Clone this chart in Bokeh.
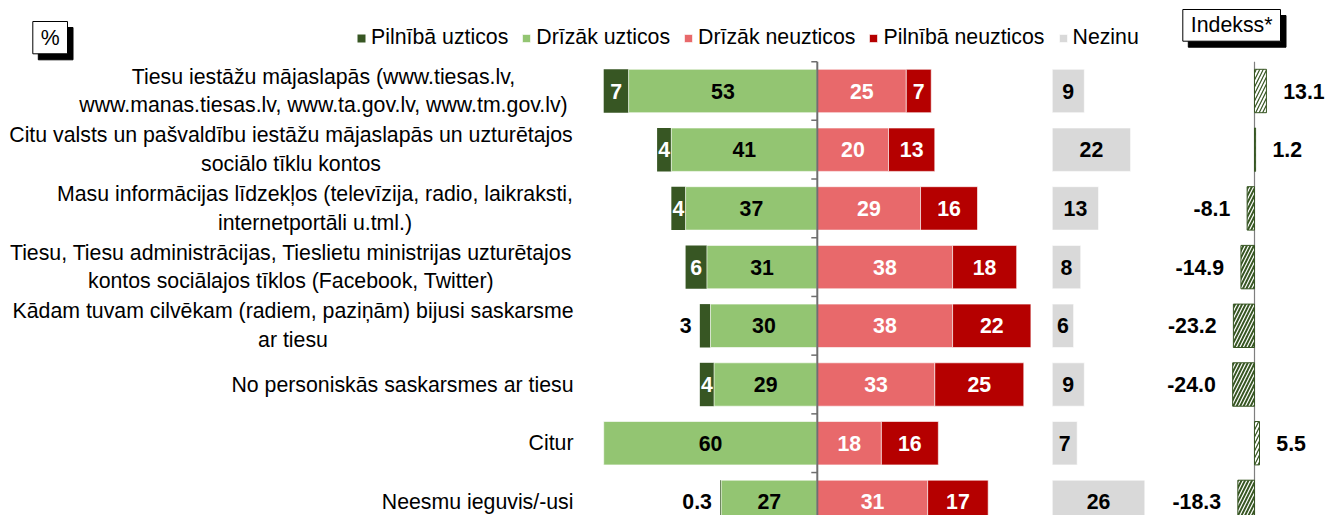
from bokeh.plotting import figure
from bokeh.models import Range1d, Legend, LegendItem
from bokeh.core.properties import value
from bokeh.embed import file_html
from bokeh.resources import INLINE

# ---------------- data ----------------
categories = [
    "Tiesu iestāžu mājaslapās (www.tiesas.lv,\nwww.manas.tiesas.lv, www.ta.gov.lv, www.tm.gov.lv)",
    "Citu valsts un pašvaldību iestāžu mājaslapās un uzturētajos\nsociālo tīklu kontos",
    "Masu informācijas līdzekļos (televīzija, radio, laikraksti,\ninternetportāli u.tml.)",
    "Tiesu, Tiesu administrācijas, Tieslietu ministrijas uzturētajos\nkontos sociālajos tīklos (Facebook, Twitter)",
    "Kādam tuvam cilvēkam (radiem, paziņām) bijusi saskarsme\nar tiesu",
    "No personiskās saskarsmes ar tiesu",
    "Citur",
    "Neesmu ieguvis/-usi",
]
series_names = ["Pilnībā uzticos", "Drīzāk uzticos", "Drīzāk neuzticos",
                "Pilnībā neuzticos", "Nezinu"]
pilnibā_uzticos = [7, 4, 4, 6, 3, 4, 0, 0.3]
drizak_uzticos = [53, 41, 37, 31, 30, 29, 60, 27]
drizak_neuzticos = [25, 20, 29, 38, 38, 33, 18, 31]
pilnibā_neuzticos = [7, 13, 16, 18, 22, 25, 16, 17]
nezinu = [9, 22, 13, 8, 6, 9, 7, 26]
indekss = [13.1, 1.2, -8.1, -14.9, -23.2, -24.0, 5.5, -18.3]
title_pct = "%"
title_idx = "Indekss*"

# ---------------- layout / style ----------------
W, H = 1326, 515
ZERO_PX, SX = 816.8, 3.56          # main panel zero (px), px per %
IDX_ZERO_PX, SXI = 1254.0, 0.91    # index panel zero, px per unit
IDX_SHIFT = IDX_ZERO_PX - 1270.7   # horizontal shift of the index panel
ROW0_PX, SY = 90.5, 58.7           # first row centre, row step
BAR_H = 43.4 / SY
NZ_OFF = 66.0                      # offset of the "Nezinu" column (in %)
LBL_GAP_IDX = 18.5                 # index label gap in index units

X0 = -ZERO_PX / SX
X1 = X0 + W / SX
XI0 = -IDX_ZERO_PX / SXI
XI1 = XI0 + W / SXI
Y_TOP = -ROW0_PX / SY
Y_BOT = Y_TOP + H / SY


def px_x(px):
    return X0 + px / SX


def px_y(py):
    return Y_TOP + py / SY


C_DG, C_LG, C_LR, C_DR, C_NZ = "#375623", "#93C572", "#E8696B", "#B50000", "#D9D9D9"
FONT = value("Liberation Sans")
FS = "21.3px"

p = figure(width=W, height=H, x_range=Range1d(X0, X1), y_range=Range1d(Y_BOT, Y_TOP),
           output_backend="svg", toolbar_location=None,
           x_axis_location=None, y_axis_location=None,
           min_border=0, outline_line_color=None)
p.xgrid.visible = False
p.ygrid.visible = False
p.extra_x_ranges = {"idx": Range1d(XI0, XI1)}

n = len(categories)
ys = list(range(n))

# ---------------- bars ----------------
dg_left = [-(a + b) for a, b in zip(pilnibā_uzticos, drizak_uzticos)]
dg_right = [-b for b in drizak_uzticos]
r_dg = p.hbar(y=ys, left=dg_left, right=dg_right, height=BAR_H,
              fill_color=C_DG, line_color=None)
r_lg = p.hbar(y=ys, left=dg_right, right=[0] * n, height=BAR_H,
              fill_color=C_LG, line_color="white", line_alpha=0.6)
lr_right = list(drizak_neuzticos)
r_lr = p.hbar(y=ys, left=[0] * n, right=lr_right, height=BAR_H,
              fill_color=C_LR, line_color="white", line_alpha=0.6)
dr_right = [a + b for a, b in zip(drizak_neuzticos, pilnibā_neuzticos)]
r_dr = p.hbar(y=ys, left=lr_right, right=dr_right, height=BAR_H,
              fill_color=C_DR, line_color="white", line_alpha=0.6)
r_nz = p.hbar(y=ys, left=[NZ_OFF] * n, right=[NZ_OFF + v for v in nezinu],
              height=BAR_H, fill_color=C_NZ, line_color="white", line_alpha=0.6)

# centre axis with ticks between categories
p.segment(x0=[0], y0=[-0.5], x1=[0], y1=[Y_BOT + 1], line_color="#6f6f6f", line_width=2)
tick_y = [i - 0.5 for i in range(n)]
p.segment(x0=[-6 / SX] * n, y0=tick_y, x1=[0] * n, y1=tick_y,
          line_color="#6f6f6f", line_width=1.5)

# index panel
pos = [i for i, v in enumerate(indekss) if v >= 0]
neg = [i for i, v in enumerate(indekss) if v < 0]
p.segment(x0=[0], y0=[-0.5], x1=[0], y1=[Y_BOT + 1], x_range_name="idx",
          line_color="#7f7f7f", line_width=1.2)
p.hbar(y=pos, left=[0] * len(pos), right=[indekss[i] for i in pos], height=BAR_H,
       x_range_name="idx", fill_color="white", line_color=C_DG, line_width=1,
       hatch_pattern="/", hatch_color=C_DG, hatch_scale=7, hatch_weight=1.2)
p.hbar(y=neg, left=[indekss[i] for i in neg], right=[0] * len(neg), height=BAR_H,
       x_range_name="idx", fill_color=C_DG, line_color=C_DG, line_width=1,
       hatch_pattern="/", hatch_color="white", hatch_scale=7, hatch_weight=1.2)

# ---------------- value labels ----------------
def fmt(v):
    return f"{v:g}"


def txt(xs, yv, texts, color, align="center", rng="default", bold=True):
    if not xs:
        return
    kw = {} if rng == "default" else {"x_range_name": rng}
    p.text(x=xs, y=yv, text=texts, text_color=color, text_align=align,
           text_baseline="middle", text_font=FONT, text_font_size=FS,
           text_font_style="bold" if bold else "normal", **kw)


# dark green: inside (white) when wide enough, outside (black) when small
in_i = [i for i, v in enumerate(pilnibā_uzticos) if v >= 4]
out_i = [i for i, v in enumerate(pilnibā_uzticos) if 0 < v < 4]
txt([(dg_left[i] + dg_right[i]) / 2 for i in in_i], in_i,
    [fmt(pilnibā_uzticos[i]) for i in in_i], "white")
txt([dg_left[i] - 2.3 for i in out_i], out_i,
    [fmt(pilnibā_uzticos[i]) for i in out_i], "black", "right")
txt([d / 2 for d in dg_right], ys, [fmt(v) for v in drizak_uzticos], "black")
txt([v / 2 for v in lr_right], ys, [fmt(v) for v in drizak_neuzticos], "white")
txt([(a + b) / 2 for a, b in zip(lr_right, dr_right)], ys,
    [fmt(v) for v in pilnibā_neuzticos], "white")
txt([NZ_OFF + v / 2 for v in nezinu], ys, [fmt(v) for v in nezinu], "black")
txt([indekss[i] + LBL_GAP_IDX for i in pos], pos,
    [f"{indekss[i]:.1f}" for i in pos], "black", "left", "idx")
txt([indekss[i] - LBL_GAP_IDX for i in neg], neg,
    [f"{indekss[i]:.1f}" for i in neg], "black", "right", "idx")

# ---------------- category labels ----------------
label_anchor = [("center", 323), ("center", 290.5), ("center", 314.5), ("center", 290.5),
                ("center", 292.5), ("right", 573), ("right", 573), ("right", 573)]
for al in ("center", "right"):
    idx = [i for i in range(n) if label_anchor[i][0] == al]
    txt([px_x(label_anchor[i][1]) for i in idx], idx, [categories[i] for i in idx],
        "black", al, bold=False)

# ---------------- boxed titles ----------------
for (l, r, t, b, s) in [(32.3, 67, 21, 53.3, title_pct),
                        (1199 + IDX_SHIFT, 1296.7 + IDX_SHIFT, 9, 40.7, title_idx)]:
    p.quad(left=[px_x(l + 5.5)], right=[px_x(r + 5.5)], top=[px_y(t + 6)], bottom=[px_y(b + 6)],
           fill_color="black", line_color="black")
    p.quad(left=[px_x(l)], right=[px_x(r)], top=[px_y(t)], bottom=[px_y(b)],
           fill_color="white", line_color="black", line_width=1)
    txt([px_x((l + r) / 2)], [px_y((t + b) / 2)], [s], "black", "center", bold=False)

# ---------------- legend ----------------
legend = Legend(items=[LegendItem(label=nm, renderers=[r]) for nm, r in
                       zip(series_names, [r_dg, r_lg, r_lr, r_dr, r_nz])],
                orientation="horizontal", location=(356, 465),
                glyph_width=10, glyph_height=10, label_standoff=5, spacing=13,
                padding=0, margin=0, border_line_color=None,
                background_fill_alpha=0, label_text_font="Liberation Sans",
                label_text_font_size=FS, label_text_color="black")
p.add_layout(legend)

open("out.html", "w").write(file_html(p, INLINE))
